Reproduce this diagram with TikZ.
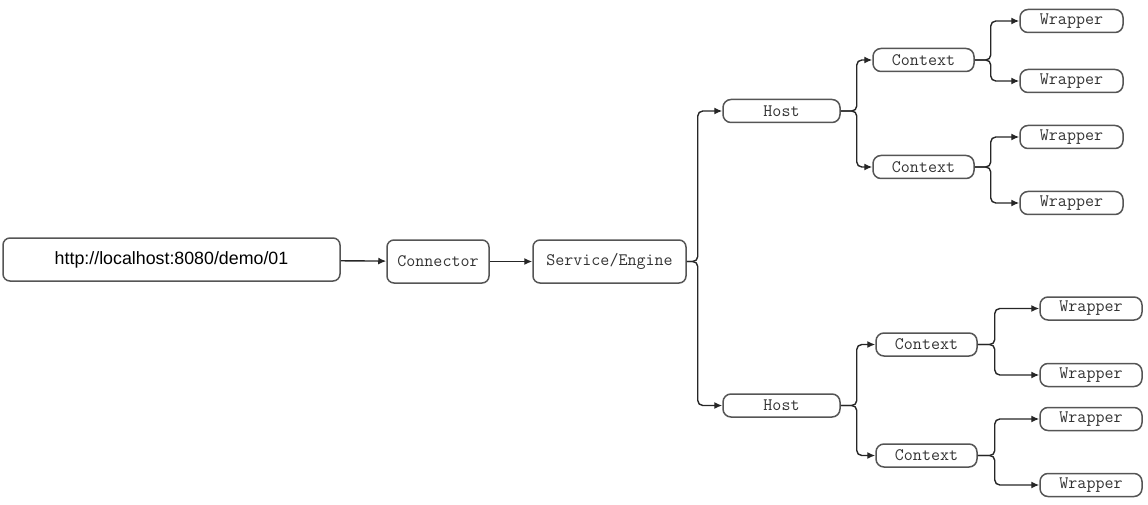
\documentclass[tikz,border=0pt]{standalone}
\usepackage{fontspec}
\setmainfont{Liberation Sans}
\usetikzlibrary{positioning, arrows.meta}
\definecolor{boxGray}{HTML}{555555}
\definecolor{txtGray}{HTML}{333333}

\begin{document}
\begin{tikzpicture}[x=1pt, y=-1pt,
          box/.style={draw=boxGray, line width=1.5pt, rounded corners=7pt, fill=white, text=txtGray, inner sep=0pt, minimum height=43pt, font=\ttfamily\fontsize{17.5}{17.5}\selectfont},
          leaf/.style={box, minimum height=23pt, rounded corners=8pt},
          link/.style={draw=black!85, line width=1.4pt, rounded corners=5pt, -{Latex[length=8pt,width=7pt]}},
        ]
        \useasboundingbox (0,0) rectangle (1148,505);
        % main line
        \node[box, minimum width=337pt, text=black, font=\fontsize{17.8}{17.8}\selectfont] (url) at (171.5,259.5) {http://localhost:8080/demo/01};
        \node[box, minimum width=102pt] (conn) at (438,261.5) {Connector};
        \node[box, minimum width=153pt] (engine) at (609.5,261.5) {Service/Engine};
        % hosts
        \node[leaf, minimum width=117pt] (hostA) at (781.5,111) {Host};
        \node[leaf, minimum width=117pt] (hostB) at (781.5,405.5) {Host};
        % contexts
        \node[leaf, minimum width=101pt] (ctxA1) at (923.5,60) {Context};
        \node[leaf, minimum width=101pt] (ctxA2) at (923.5,167) {Context};
        \node[leaf, minimum width=101pt] (ctxB1) at (926.5,344.5) {Context};
        \node[leaf, minimum width=101pt] (ctxB2) at (926.5,455.5) {Context};
        % wrappers
        \node[leaf, minimum width=103pt] (wrA1) at (1071.5,21) {Wrapper};
        \node[leaf, minimum width=103pt] (wrA2) at (1071.5,81) {Wrapper};
        \node[leaf, minimum width=103pt] (wrA3) at (1071.5,137) {Wrapper};
        \node[leaf, minimum width=103pt] (wrA4) at (1071.5,203) {Wrapper};
        \node[leaf, minimum width=102pt] (wrB1) at (1091,308.5) {Wrapper};
        \node[leaf, minimum width=102pt] (wrB2) at (1091,375) {Wrapper};
        \node[leaf, minimum width=102pt] (wrB3) at (1091,419) {Wrapper};
        \node[leaf, minimum width=102pt] (wrB4) at (1091,485) {Wrapper};

        \draw[link] (url) -- (conn);
        \draw[link] (conn) -- (engine);
        \draw[link] (engine.east) -- ++(11,0) |- (hostA.west);
        \draw[link] (engine.east) -- ++(11,0) |- (hostB.west);
        \draw[link] (hostA.east) -- ++(16,0) |- (ctxA1.west);
        \draw[link] (hostA.east) -- ++(16,0) |- (ctxA2.west);
        \draw[link] (hostB.east) -- ++(16,0) |- (ctxB1.west);
        \draw[link] (hostB.east) -- ++(16,0) |- (ctxB2.west);
        \draw[link] (ctxA1.east) -- ++(16,0) |- (wrA1.west);
        \draw[link] (ctxA1.east) -- ++(16,0) |- (wrA2.west);
        \draw[link] (ctxA2.east) -- ++(16,0) |- (wrA3.west);
        \draw[link] (ctxA2.east) -- ++(16,0) |- (wrA4.west);
        \draw[link] (ctxB1.east) -- ++(17,0) |- (wrB1.west);
        \draw[link] (ctxB1.east) -- ++(17,0) |- (wrB2.west);
        \draw[link] (ctxB2.east) -- ++(17,0) |- (wrB3.west);
        \draw[link] (ctxB2.east) -- ++(17,0) |- (wrB4.west);
      \end{tikzpicture}
\end{document}
